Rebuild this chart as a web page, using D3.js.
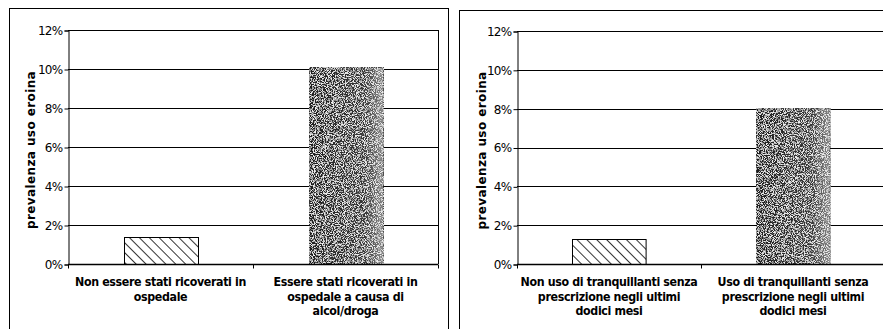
<!DOCTYPE html>
<html>
<head>
<meta charset="utf-8">
<script src="https://cdn.jsdelivr.net/npm/d3@7"></script>
<style>
  body { margin: 0; background: #fff; }
  svg { display: block; }
</style>
</head>
<body>
<div id="chart"></div>
<script>
// data
const yTicks = [0, 0.02, 0.04, 0.06, 0.08, 0.10, 0.12]
const yTitle = "prevalenza uso eroina"

const leftCats = ["Non essere stati ricoverati in|ospedale", "Essere stati ricoverati in|ospedale a causa di|alcol/droga"]
const leftValues = [0.014, 0.101]

const rightCats = ["Non uso di tranquillanti senza|prescrizione negli ultimi|dodici mesi", "Uso di tranquillanti senza|prescrizione negli ultimi|dodici mesi"]
const rightValues = [0.013, 0.0805]

const W = 883, H = 329

const svg = d3.select("#chart").append("svg")
    .attr("width", W)
    .attr("height", H)

const defs = svg.append("defs")

// diagonal hatch for the first bar ("\\\" direction)
const hatch = defs.append("pattern")
    .attr("id", "hatch")
    .attr("patternUnits", "userSpaceOnUse")
    .attr("width", 7).attr("height", 7)
    .attr("patternTransform", "rotate(-45)")
hatch.append("rect").attr("width", 7).attr("height", 7).attr("fill", "#fff")
hatch.append("line")
    .attr("x1", 0).attr("y1", 0).attr("x2", 0).attr("y2", 7)
    .attr("stroke", "#000").attr("stroke-width", 1.6)

// speckled dark fill for the second bar
const grad = defs.append("linearGradient").attr("id", "shade")
grad.append("stop").attr("offset", "0%").attr("stop-color", "#1e1e1e")
grad.append("stop").attr("offset", "75%").attr("stop-color", "#383838")
grad.append("stop").attr("offset", "100%").attr("stop-color", "#8a8a8a")

const noise = defs.append("filter").attr("id", "noise")
    .attr("x", 0).attr("y", 0).attr("width", 1).attr("height", 1)
noise.append("feTurbulence")
    .attr("type", "fractalNoise").attr("baseFrequency", 1.1)
    .attr("numOctaves", 2).attr("seed", 7).attr("result", "t")
noise.append("feColorMatrix").attr("in", "t").attr("type", "matrix")
    .attr("values", "0 0 0 0 0.85  0 0 0 0 0.85  0 0 0 0 0.85  0 0 0 4.5 -2.0")
    .attr("result", "specks")
noise.append("feComposite").attr("in", "specks").attr("in2", "SourceGraphic")
    .attr("operator", "in").attr("result", "sp")
noise.append("feMerge").call(m => {
    m.append("feMergeNode").attr("in", "SourceGraphic")
    m.append("feMergeNode").attr("in", "sp")
})

const drawPanel = (box, plot, cats, values) => {
    // panel frame
    svg.append("rect")
        .attr("x", box.x0 + 0.5).attr("y", box.y0 + 0.5)
        .attr("width", box.x1 - box.x0).attr("height", H + 10)
        .attr("fill", "none").attr("stroke", "#000").attr("stroke-width", 1)

    const x = d3.scaleBand()
        .domain(cats)
        .range([plot.left, plot.right])
        .paddingInner(0.6)
        .paddingOuter(0.3)
    const y = d3.scaleLinear().domain([0, 0.12]).range([plot.bottom, plot.top])

    const g = svg.append("g")

    // gridlines
    g.selectAll("line.grid")
        .data(yTicks.slice(1))
        .enter().append("line")
        .attr("class", "grid")
        .attr("x1", plot.left).attr("x2", plot.right)
        .attr("y1", d => Math.round(y(d)) + 0.5).attr("y2", d => Math.round(y(d)) + 0.5)
        .attr("stroke", "#000").attr("stroke-width", 1.1)

    // right border of plot
    g.append("line")
        .attr("x1", plot.right + 0.5).attr("x2", plot.right + 0.5)
        .attr("y1", plot.top).attr("y2", plot.bottom)
        .attr("stroke", "#000")

    // bars
    g.selectAll("rect.bar")
        .data(values)
        .enter().append("rect")
        .attr("class", "bar")
        .attr("x", (d, i) => Math.round(x(cats[i])) + 0.5)
        .attr("y", d => Math.round(y(d)) + 0.5)
        .attr("width", x.bandwidth())
        .attr("height", d => plot.bottom - Math.round(y(d)))
        .attr("fill", (d, i) => i === 0 ? "url(#hatch)" : "url(#shade)")
        .attr("filter", (d, i) => i === 0 ? null : "url(#noise)")
        .attr("stroke", "#000")
        .attr("stroke-width", (d, i) => i === 0 ? 1 : 0.6)

    // y axis
    const yAxis = d3.axisLeft(y)
        .tickValues(yTicks)
        .tickFormat(d3.format(".0%"))
        .tickSize(4)
        .tickPadding(2)
    const ya = g.append("g")
        .attr("transform", "translate(" + (plot.left + 0.5) + ",0.5)")
        .call(yAxis)
    ya.attr("font-size", null).attr("font-family", null)
    ya.select(".domain").attr("stroke", "#000")
    ya.selectAll(".tick text")
        .attr("fill", "#000")
        .style("font-size", "12px")
        .style("font-family", "'DejaVu Sans', sans-serif")
        .attr("letter-spacing", -0.7)

    // x axis (ticks between categories)
    const xa = g.append("g")
        .attr("transform", "translate(0," + (plot.bottom + 0.5) + ")")
    xa.append("line")
        .attr("x1", plot.left).attr("x2", plot.right)
        .attr("stroke", "#000").attr("stroke-width", 1.6)
    xa.selectAll("line.xt")
        .data([0, 1, 2])
        .enter().append("line")
        .attr("class", "xt")
        .attr("x1", d => Math.round(plot.left + d * (plot.right - plot.left) / 2) + 0.5)
        .attr("x2", d => Math.round(plot.left + d * (plot.right - plot.left) / 2) + 0.5)
        .attr("y1", 0).attr("y2", 4)
        .attr("stroke", "#000")

    // category labels
    cats.forEach(c => {
        const t = g.append("text")
            .attr("text-anchor", "middle")
            .style("font-size", "12.3px")
            .attr("font-weight", "bold")
            .attr("letter-spacing", -0.35)
            .style("font-family", "'DejaVu Sans Condensed', 'DejaVu Sans', sans-serif")
            .attr("fill", "#000")
        c.split("|").forEach((line, i) => {
            t.append("tspan")
                .attr("x", x(c) + x.bandwidth() / 2)
                .attr("y", plot.bottom + 22 + i * 14.5)
                .text(line)
        })
    })

    // y title
    g.append("text")
        .attr("text-anchor", "middle")
        .attr("transform", "translate(" + plot.titleX + "," + ((plot.top + plot.bottom) / 2 + 3) + ") rotate(-90)")
        .style("font-size", "12px")
        .attr("font-weight", "bold")
        .attr("letter-spacing", 0.4)
        .style("font-family", "'DejaVu Sans', sans-serif")
        .attr("fill", "#000")
        .text(yTitle)
}

drawPanel({x0: 9, x1: 448, y0: 8}, {left: 68, right: 438, top: 30, bottom: 264, titleX: 35}, leftCats, leftValues)
drawPanel({x0: 459, x1: 900, y0: 10}, {left: 517, right: 885, top: 31, bottom: 264, titleX: 486}, rightCats, rightValues)
</script>
</body>
</html>
